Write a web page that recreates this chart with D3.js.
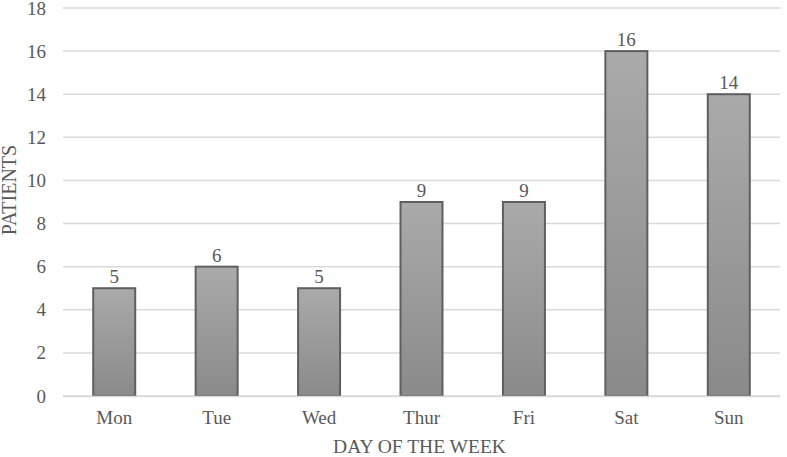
<!DOCTYPE html>
<html>
<head>
<meta charset="utf-8">
<script src="https://cdn.jsdelivr.net/npm/d3@7"></script>
<style>
  body { margin: 0; background: #fff; }
  text { font-family: "Liberation Serif", "Times New Roman", serif; }
</style>
</head>
<body>
<div id="chart"></div>
<script>
// Chart data
var days = ["Mon", "Tue", "Wed", "Thur", "Fri", "Sat", "Sun"];
var patients = [5, 6, 5, 9, 9, 16, 14];
var yTicks = [0, 2, 4, 6, 8, 10, 12, 14, 16, 18];

var svgWidth = 787;
var svgHeight = 457;

var margin = { top: 8, bottom: 61, left: 63, right: 7 };

var width = svgWidth - margin.left - margin.right;
var height = svgHeight - margin.top - margin.bottom;

var svg = d3.select("#chart")
    .append("svg")
    .attr("width", svgWidth)
    .attr("height", svgHeight);

// Bar gradient
var grad = svg.append("defs").append("linearGradient")
    .attr("id", "barGrad")
    .attr("x1", 0).attr("y1", 0).attr("x2", 0).attr("y2", 1);
grad.append("stop").attr("offset", "0%").attr("stop-color", "#aaaaaa");
grad.append("stop").attr("offset", "100%").attr("stop-color", "#8a8a8a");

var chartGroup = svg.append("g")
    .attr("transform", `translate(${margin.left}, ${margin.top})`);

var xScale = d3.scaleBand()
    .domain(days)
    .range([0, width])
    .paddingInner(0.59)
    .paddingOuter(0.295);

var yScale = d3.scaleLinear()
    .domain([0, 18])
    .range([height, 0]);

// Gridlines
chartGroup.append("g")
    .selectAll("line")
    .data(yTicks)
    .enter()
    .append("line")
    .attr("x1", 0)
    .attr("x2", width)
    .attr("y1", d => yScale(d))
    .attr("y2", d => yScale(d))
    .attr("stroke", "#d9d9d9")
    .attr("stroke-width", 1.5);

// Y axis labels
var leftAxis = d3.axisLeft(yScale).tickValues(yTicks).tickSize(0).tickPadding(17);
var yAxis = chartGroup.append("g").call(leftAxis);
yAxis.select(".domain").remove();
yAxis.selectAll("text")
    .attr("font-size", "19px")
    .attr("fill", "#595959")
    .style("font-family", "Liberation Serif, serif");

// Bars
chartGroup.append("g")
    .selectAll("rect")
    .data(patients)
    .enter()
    .append("rect")
    .attr("x", (d, i) => xScale(days[i]))
    .attr("y", d => yScale(d))
    .attr("width", xScale.bandwidth())
    .attr("height", d => height - yScale(d))
    .attr("fill", "url(#barGrad)")
    .attr("stroke", "#5f5f5f")
    .attr("stroke-width", 2);

// Value labels
chartGroup.append("g")
    .selectAll("text")
    .data(patients)
    .enter()
    .append("text")
    .attr("x", (d, i) => xScale(days[i]) + xScale.bandwidth() / 2)
    .attr("y", d => yScale(d) - 5)
    .attr("text-anchor", "middle")
    .attr("font-size", "19px")
    .attr("fill", "#595959")
    .text(d => d);

// X axis
var bottomAxis = d3.axisBottom(xScale).tickSize(0).tickPadding(15);
var xAxis = chartGroup.append("g")
    .attr("transform", `translate(0, ${height})`)
    .call(bottomAxis);
xAxis.select(".domain").attr("stroke", "#d9d9d9").attr("stroke-width", 1.5);
xAxis.selectAll("text")
    .attr("font-size", "19px")
    .attr("fill", "#595959")
    .style("font-family", "Liberation Serif, serif");

// Axis titles
svg.append("text")
    .attr("x", margin.left + width / 2 - 2)
    .attr("y", 453)
    .attr("text-anchor", "middle")
    .attr("font-size", "19.5px")
    .attr("fill", "#595959")
    .text("DAY OF THE WEEK");

svg.append("text")
    .attr("transform", "rotate(-90)")
    .attr("x", -190)
    .attr("y", 16)
    .attr("text-anchor", "middle")
    .attr("font-size", "20px")
    .attr("fill", "#595959")
    .text("PATIENTS");
</script>
</body>
</html>
